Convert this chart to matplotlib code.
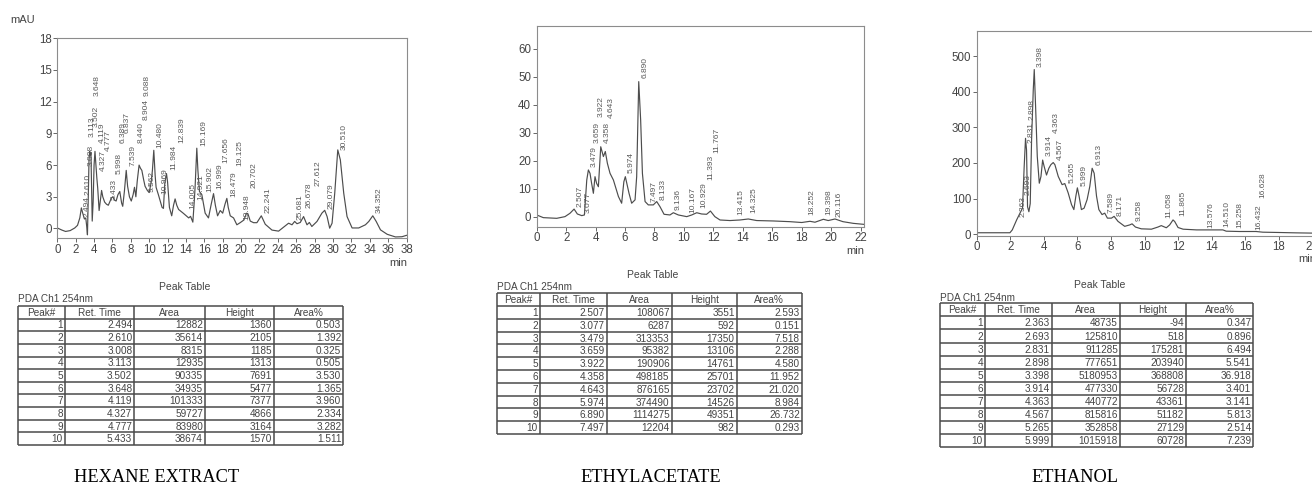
import matplotlib
matplotlib.use("Agg")
import matplotlib.pyplot as plt
from matplotlib.patches import Rectangle

plt.rcParams['font.family'] = ['Liberation Sans', 'DejaVu Sans']

# ---------------- data: chromatogram traces (min, mAU) ----------------
hex_t = [0, 0.5, 0.9, 1.4, 1.9, 2.2, 2.45, 2.62, 2.75, 2.95, 3.1, 3.2, 3.28, 3.36, 3.45, 3.52, 3.58,
         3.66, 3.72, 3.8, 3.9, 4.0, 4.1, 4.2, 4.3, 4.4, 4.55, 4.68, 4.82, 4.95, 5.15, 5.35, 5.55,
         5.75, 5.9, 6.05, 6.2, 6.4, 6.6, 6.8, 7.0, 7.12, 7.3, 7.5, 7.65, 7.85, 8.05, 8.25, 8.4,
         8.55, 8.7, 8.9, 9.05, 9.2, 9.4, 9.55, 9.8, 10.0, 10.2, 10.35, 10.5, 10.65, 10.75, 11.0,
         11.2, 11.4, 11.55, 11.7, 11.88, 12.0, 12.2, 12.45, 12.65, 12.82, 13.0, 13.2, 13.7, 14.3,
         14.5, 14.75, 14.9, 15.0, 15.18, 15.3, 15.47, 15.73, 16.09, 16.45, 16.75, 17.0, 17.2,
         17.44, 17.73, 18.0, 18.25, 18.45, 18.6, 18.82, 19.18, 19.54, 19.9, 20.3, 20.6, 20.74,
         21.0, 21.36, 21.72, 22.2, 22.63, 23.36, 24.08, 24.74, 25.17, 25.54, 25.83, 26.08, 26.44,
         26.8, 27.17, 27.43, 27.7, 28.26, 28.8, 29.1, 29.36, 29.64, 29.9, 30.19, 30.52, 30.8,
         31.17, 31.53, 32.08, 32.8, 33.53, 33.9, 34.33, 34.7, 35.17, 35.9, 36.8, 37.5, 38.0]
hex_v = [0.05, -0.15, -0.28, -0.2, 0.05, 0.3, 1.0, 1.95, 1.5, 0.9, 1.0, 0.2, -0.6, 2.5, 6.5, 7.3, 6.9,
         7.2, 4.5, 0.7, 2.5, 6.0, 7.3, 6.0, 4.8, 3.8, 1.7, 2.6, 3.6, 3.0, 2.5, 2.3, 2.2,
         2.6, 2.9, 3.0, 2.7, 2.6, 3.2, 3.5, 2.4, 2.1, 3.5, 5.5, 4.0, 3.0, 2.6, 3.2, 3.9,
         3.0, 4.5, 6.0, 5.7, 5.5, 4.6, 4.0, 3.6, 3.4, 4.3, 5.5, 7.4, 5.0, 3.9, 3.2,
         2.6, 2.0, 1.9, 4.3, 5.2, 4.4, 2.0, 1.2, 2.2, 2.8, 2.2, 1.8, 1.45, 1.0,
         1.15, 0.6, 2.5, 4.0, 7.6, 5.5, 3.5, 3.2, 1.45, 1.0, 2.3, 3.3, 2.2,
         1.2, 1.7, 1.45, 2.3, 2.85, 2.0, 1.2, 1.0, 0.35, 0.55, 0.8, 1.45, 1.4,
         0.7, 0.55, 0.55, 1.2, 0.4, -0.15, -0.25, 0.2, 0.5, 0.35, 0.67, 0.45, 0.57,
         1.13, 0.35, 0.57, 0.19, 0.67, 1.46, 1.72, 1.13, 0.03, 0.5, 3.34, 7.44, 6.5,
         3.34, 1.13, 0.05, 0.05, 0.35, 0.67, 1.2, 0.67, -0.13, -0.55, -0.8, -0.78, -0.65]

eth_t = [0, 0.45, 1.36, 1.92, 2.26, 2.54, 2.76, 3.06, 3.24, 3.4, 3.51, 3.62, 3.73, 3.85, 3.96,
         4.07, 4.19, 4.35, 4.53, 4.66, 4.8, 4.98, 5.21, 5.55, 5.77, 5.92, 6.02, 6.27, 6.45, 6.68,
         6.79, 6.93, 7.06, 7.18, 7.36, 7.58, 7.76, 7.92, 8.15, 8.37, 8.65, 9.05, 9.28, 9.62,
         10.19, 10.53, 10.87, 11.2, 11.54, 11.8, 12.1, 12.45, 13.13, 13.8, 14.37, 14.94, 16.07,
         17.2, 18.0, 18.56, 18.9, 19.47, 19.8, 20.26, 20.8, 21.5, 22.2]
eth_v = [0.6, -0.36, -0.6, 0.0, 1.2, 2.7, 0.95, 0.36, 0.6, 13.1, 16.7, 15.5, 11.9, 8.35, 14.3,
         11.9, 10.7, 25.0, 21.5, 23.3, 19.1, 15.5, 13.1, 7.2, 4.8, 12.5, 14.3, 8.35, 4.8, 6.0,
         14.3, 48.3, 34.6, 15.5, 5.4, 4.2, 4.2, 4.2, 5.4, 3.6, 0.84, 0.6, 1.4, 0.6,
         0.0, 0.6, 1.4, 0.95, 0.84, 2.0, 0.0, -1.2, -1.4, -1.2, -0.84, -1.4, -1.55,
         -1.8, -2.1, -1.67, -2.0, -0.95, -1.4, -0.84, -1.8, -2.4, -2.75]

etoh_t = [0, 1.0, 1.98, 2.12, 2.38, 2.58, 2.73, 2.83, 2.91, 2.97, 3.03, 3.11, 3.19, 3.27, 3.37,
          3.43, 3.51, 3.61, 3.73, 3.83, 3.93, 4.02, 4.16, 4.3, 4.42, 4.56, 4.66, 4.86, 5.09,
          5.25, 5.45, 5.65, 5.79, 5.91, 6.0, 6.1, 6.24, 6.4, 6.58, 6.74, 6.88, 7.0, 7.14, 7.28,
          7.47, 7.63, 7.79, 8.03, 8.19, 8.42, 8.82, 9.12, 9.26, 9.46, 9.81, 10.41, 10.8, 11.0,
          11.3, 11.5, 11.7, 11.8, 12.0, 12.3, 13.1, 13.9, 14.67, 14.87, 15.66, 16.65, 17.05,
          18.04, 19.03, 20.3]
etoh_v = [4, 4, 4, 12, 40, 59, 73, 190, 269, 236, 77, 63, 86, 264, 404,
          462, 358, 218, 143, 162, 208, 190, 166, 185, 195, 201, 195, 162, 139,
          142, 116, 83, 69, 107, 130, 107, 69, 73, 97, 134, 185, 171, 107, 69,
          55, 59, 45, 45, 50, 36, 22, 26, 29, 20, 15, 14, 20, 24,
          18, 26, 40, 35.5, 18.7, 14, 12, 12, 12, 8.4, 7.5, 7.5, 5.6,
          4.7, 3.7, 2.8]

# ---------------- data: peak labels (ret. time, label base height) ----------------
hex_lab = [2.494, 2.610, 3.008, 3.113, 3.502, 3.648, 4.119, 4.327, 4.777, 5.433, 5.998, 6.389,
           6.837, 7.539, 8.440, 8.904, 9.088, 9.562, 10.480, 10.969, 11.984, 12.839, 14.005,
           14.921, 15.169, 15.902, 16.999, 17.656, 18.479, 19.125, 19.948, 20.702, 22.241,
           25.681, 26.678, 27.612, 29.079, 30.510, 34.352]
hex_lab_y = [1.13, 3.2, 5.9, 8.7, 9.65, 12.5, 8.1, 5.4, 7.3, 2.7, 5.2, 8.1,
             9.0, 5.9, 8.1, 10.3, 12.5, 3.5, 7.6, 3.3, 5.5, 8.1, 1.8,
             2.7, 7.8, 3.5, 3.7, 6.2, 3.0, 5.9, 0.8, 3.8, 1.45,
             0.8, 1.9, 4.0, 1.8, 7.4, 1.45]

eth_lab = [2.507, 3.077, 3.479, 3.659, 3.922, 4.358, 4.643, 5.974, 6.890, 7.497, 8.133, 9.136,
           10.167, 10.929, 11.393, 11.767, 13.415, 14.325, 18.252, 19.398, 20.116]
eth_lab_y = [3.6, 1.2, 17.9, 26.2, 35.8, 26.2, 35.2, 15.5, 49.5, 5.4, 6.0, 2.4,
             1.2, 3.0, 13.1, 22.7, 0.6, 1.2, 0.6, 0.6, 0.0]

etoh_lab = [2.363, 2.693, 2.831, 2.898, 3.398, 3.914, 4.363, 4.567, 5.265, 5.999, 6.913, 7.589,
            8.171, 9.258, 11.058, 11.865, 13.576, 14.510, 15.258, 16.432, 16.628]
etoh_lab_y = [49, 110, 255, 321, 470, 218, 283, 208, 143, 134, 194, 59,
              50, 36, 45, 50, 17, 21, 17, 12, 101]

# ---------------- data: peak tables ----------------
tbl_header = ["Peak#", "Ret. Time", "Area", "Height", "Area%"]
peak_no = [1, 2, 3, 4, 5, 6, 7, 8, 9, 10]

hex_rt = ["2.494", "2.610", "3.008", "3.113", "3.502", "3.648", "4.119", "4.327", "4.777", "5.433"]
hex_area = [12882, 35614, 8315, 12935, 90335, 34935, 101333, 59727, 83980, 38674]
hex_height = [1360, 2105, 1185, 1313, 7691, 5477, 7377, 4866, 3164, 1570]
hex_pct = ["0.503", "1.392", "0.325", "0.505", "3.530", "1.365", "3.960", "2.334", "3.282", "1.511"]

eth_rt = ["2.507", "3.077", "3.479", "3.659", "3.922", "4.358", "4.643", "5.974", "6.890", "7.497"]
eth_area = [108067, 6287, 313353, 95382, 190906, 498185, 876165, 374490, 1114275, 12204]
eth_height = [3551, 592, 17350, 13106, 14761, 25701, 23702, 14526, 49351, 982]
eth_pct = ["2.593", "0.151", "7.518", "2.288", "4.580", "11.952", "21.020", "8.984", "26.732", "0.293"]

etoh_rt = ["2.363", "2.693", "2.831", "2.898", "3.398", "3.914", "4.363", "4.567", "5.265", "5.999"]
etoh_area = [48735, 125810, 911285, 777651, 5180953, 477330, 440772, 815816, 352858, 1015918]
etoh_height = [-94, 518, 175281, 203940, 368808, 56728, 43361, 51182, 27129, 60728]
etoh_pct = ["0.347", "0.896", "6.494", "5.541", "36.918", "3.401", "3.141", "5.813", "2.514", "7.239"]

titles = ["HEXANE EXTRACT", "ETHYLACETATE", "ETHANOL"]

# ---------------- drawing ----------------
W, H = 1312, 483
fig = plt.figure(figsize=(W / 100, H / 100), dpi=100)
TRACE = '#4d4d4d'
TXT = '#444444'


def px_axes(l, t, r, b, **kw):
    return fig.add_axes([l / W, 1 - b / H, (r - l) / W, (b - t) / H], **kw)


def draw_panel(box, t, v, xlim, ylim, xticks, yticks, lab, lab_y):
    ax = px_axes(*box)
    ax.plot(t, v, color=TRACE, lw=0.85)
    ax.set_xlim(xlim)
    ax.set_ylim(ylim)
    ax.set_xticks(xticks)
    ax.set_yticks(yticks)
    for s in ax.spines.values():
        s.set_color('#8c8c8c')
        s.set_linewidth(0.8)
    ax.tick_params(direction='out', length=3, width=0.7, color='#666666',
                   labelsize=8.3, labelcolor=TXT, pad=1)
    for val, base in zip(lab, lab_y):
        ax.annotate(f"{val:.3f}", xy=(val, base), xytext=(4.8, 0),
                    textcoords='offset points', rotation=90, ha='center',
                    va='bottom', fontsize=6, color='#5a5a5a')
    return ax


draw_panel((57.3, 38.3, 406.5, 238), hex_t, hex_v, (0, 38), (-0.9, 18),
           list(range(0, 39, 2)), list(range(0, 19, 3)), hex_lab, hex_lab_y)
draw_panel((536.7, 26, 864, 226.7), eth_t, eth_v, (0, 22.23), (-3.6, 68.2),
           list(range(0, 23, 2)), list(range(0, 61, 10)), eth_lab, eth_lab_y)
draw_panel((976.7, 30.7, 1317, 235.6), etoh_t, etoh_v, (0, 20.28), (-4, 571),
           list(range(0, 21, 2)), list(range(0, 501, 100)), etoh_lab, etoh_lab_y)

ov = fig.add_axes([0, 0, 1, 1], facecolor='none')
ov.set_xlim(0, W)
ov.set_ylim(H, 0)
ov.axis('off')

# axis unit labels
ov.text(10, 20, "mAU", fontsize=8, color=TXT, ha='left', va='center')
ov.text(930, 9.5, "mAU", fontsize=8, color=TXT, ha='left', va='center')
ov.add_patch(Rectangle((920, -2), 50, 13.0, color='white', zorder=5))
ov.text(407, 263, "min", fontsize=8, color=TXT, ha='right', va='center')
ov.text(864, 251, "min", fontsize=8, color=TXT, ha='right', va='center')
ov.text(1316, 259, "min", fontsize=8, color=TXT, ha='right', va='center')


def draw_table(cols, top, bottom, rt, area, height, pct, title_xy, pda_y):
    n = len(rt) + 1
    rh = (bottom - top) / n
    ov.text(title_xy[0], title_xy[1], "Peak Table", fontsize=7.5, color=TXT,
            ha='center', va='center')
    ov.text(cols[0], pda_y, "PDA Ch1 254nm", fontsize=7.2, color=TXT,
            ha='left', va='center')
    for i in range(n + 1):
        y = top + i * rh
        ov.plot([cols[0], cols[-1]], [y, y], color='#4a4a4a', lw=1.1,
                solid_capstyle='butt')
    for x in cols:
        ov.plot([x, x], [top, bottom], color='#4a4a4a', lw=1.1,
                solid_capstyle='butt')
    for j, h in enumerate(tbl_header):
        ov.text((cols[j] + cols[j + 1]) / 2, top + rh / 2 + 0.5, h, fontsize=7.2,
                color=TXT, ha='center', va='center')
    for i in range(len(rt)):
        row = [str(peak_no[i]), rt[i], str(area[i]), str(height[i]), pct[i]]
        y = top + (i + 1.5) * rh + 0.5
        for j, s in enumerate(row):
            ov.text(cols[j + 1] - 2, y, s, fontsize=7.2, color=TXT,
                    ha='right', va='center')


draw_table([18.3, 65, 134.3, 205, 274, 343.3], 306, 445,
           hex_rt, hex_area, hex_height, hex_pct, (185, 286.7), 299)
draw_table([497.3, 540, 606.7, 671.7, 736.7, 801.7], 293.3, 434,
           eth_rt, eth_area, eth_height, eth_pct, (653, 275), 286.7)
draw_table([940, 985, 1051.7, 1120, 1186, 1253.3], 303.3, 447.3,
           etoh_rt, etoh_area, etoh_height, etoh_pct, (1100, 285), 298)

for x, s in zip([157, 651, 1075], titles):
    ov.text(x, 481.5, s, fontsize=13.2, color='black', ha='center',
            va='baseline', family=['Liberation Serif', 'DejaVu Serif'])

fig.savefig("out.png", dpi=100)
